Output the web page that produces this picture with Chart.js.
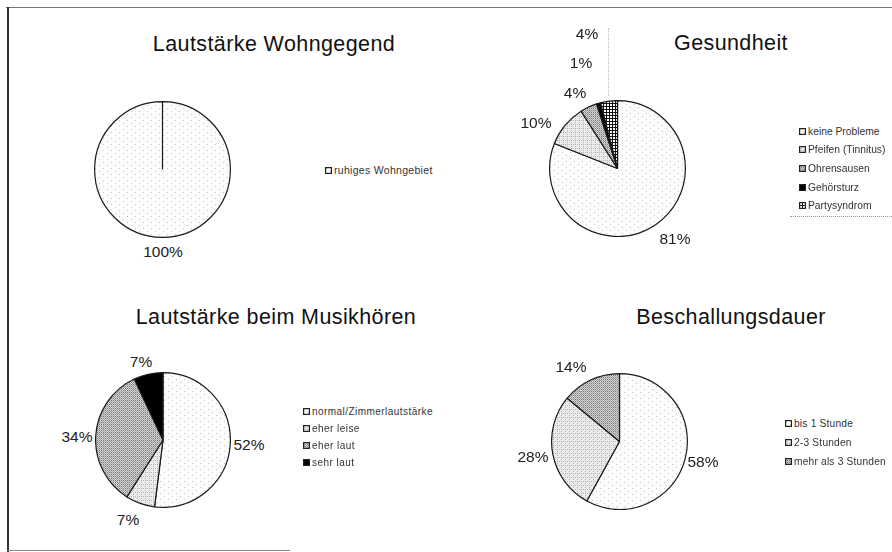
<!DOCTYPE html>
<html>
<head>
<meta charset="utf-8">
<script src="https://cdn.jsdelivr.net/npm/chart.js@4/dist/chart.umd.min.js"></script>
<style>
  html, body { margin: 0; padding: 0; background: #fff; }
  body { width: 892px; height: 552px; position: relative; overflow: hidden; font-family: "Liberation Sans", Arial, sans-serif; }
  .abs { position: absolute; }
  .title { position: absolute; color: #111; font-size: 21.5px; letter-spacing: 0.4px; white-space: nowrap; transform: translate(-50%, -50%); }
  .pct { position: absolute; color: #222; font-size: 15.5px; white-space: nowrap; transform: translate(-50%, -50%); }
  .leg { position: absolute; color: #333; white-space: nowrap; display: flex; align-items: center; }
  .leg canvas { margin-right: 2px; }
</style>
</head>
<body>
<script>
// ---------- data ----------
const titles = ['Lautstärke Wohngegend', 'Gesundheit', 'Lautstärke beim Musikhören', 'Beschallungsdauer'];

const wohnLabels = ['ruhiges Wohngebiet'];
const wohnValues = [100];

const gesundLabels = ['keine Probleme', 'Pfeifen (Tinnitus)', 'Ohrensausen', 'Gehörsturz', 'Partysyndrom'];
const gesundValues = [81, 10, 4, 1, 4];

const musikLabels = ['normal/Zimmerlautstärke', 'eher leise', 'eher laut', 'sehr laut'];
const musikValues = [52, 7, 34, 7];

const dauerLabels = ['bis 1 Stunde', '2-3 Stunden', 'mehr als 3 Stunden'];
const dauerValues = [58, 28, 14];

// ---------- patterns (scanned-print look) ----------
function makePattern(w, h, fn) {
  const c = document.createElement('canvas');
  c.width = w; c.height = h;
  const x = c.getContext('2d');
  fn(x, w, h);
  return x.createPattern(c, 'repeat');
}
const pLight = makePattern(8, 6, (x) => {
  x.fillStyle = '#fcfcfc'; x.fillRect(0, 0, 8, 6);
  x.fillStyle = '#c4c4c4'; x.fillRect(1, 1, 1, 1); x.fillRect(5, 4, 1, 1);
});
const pGrey = makePattern(4, 4, (x) => {
  x.fillStyle = '#ececec'; x.fillRect(0, 0, 4, 4);
  x.fillStyle = '#b0b0b0'; x.fillRect(0, 0, 1, 1); x.fillRect(2, 2, 1, 1); x.fillRect(2, 0, 1, 1);
});
const pMesh = makePattern(2, 2, (x) => {
  x.fillStyle = '#d2d2d2'; x.fillRect(0, 0, 2, 2);
  x.fillStyle = '#777'; x.fillRect(0, 0, 1, 1);
  x.fillStyle = '#aaa'; x.fillRect(1, 1, 1, 1);
});
const pCheck = makePattern(3, 3, (x) => {
  x.fillStyle = '#fff'; x.fillRect(0, 0, 3, 3);
  x.fillStyle = '#111'; x.fillRect(0, 0, 3, 1); x.fillRect(0, 0, 1, 3);
});
const pBlack = '#000';

// ---------- layout ----------
const charts = [
  { title: titles[0], labels: wohnLabels, values: wohnValues, fills: [pLight],
    cx: 162, cy: 169, r: 68, tx: 274, ty: 44,
    pctPos: [[163, 252]],
    leg: { x: 325, y: 170, dy: 18, fs: 10.5, ls: 0.3 } },
  { title: titles[1], labels: gesundLabels, values: gesundValues, fills: [pLight, pGrey, pMesh, pBlack, pCheck],
    cx: 617.5, cy: 168.5, r: 68, tx: 731, ty: 43,
    pctPos: [[675, 239], [536, 123], [575, 93], [581, 63], [587, 34]],
    leg: { x: 799, y: 131, dy: 18.7, fs: 10.3, ls: 0 } },
  { title: titles[2], labels: musikLabels, values: musikValues, fills: [pLight, pGrey, pMesh, pBlack],
    cx: 163, cy: 440, r: 67.5, tx: 276, ty: 317,
    pctPos: [[249, 445], [128, 520], [77, 437], [141, 362]],
    leg: { x: 303, y: 411, dy: 17, fs: 10, ls: 0.45 } },
  { title: titles[3], labels: dauerLabels, values: dauerValues, fills: [pLight, pGrey, pMesh],
    cx: 619, cy: 441.5, r: 68, tx: 731, ty: 317,
    pctPos: [[703, 462], [533, 457], [571, 367]],
    leg: { x: 785, y: 423, dy: 19, fs: 10.2, ls: 0.2 } }
];

function addDiv(cls, text, left, top, extra) {
  const d = document.createElement('div');
  d.className = cls;
  d.textContent = text;
  d.style.left = left + 'px';
  d.style.top = top + 'px';
  if (extra) Object.assign(d.style, extra);
  document.body.appendChild(d);
  return d;
}

// frame lines of the scanned page
addDiv('abs', '', 6, 6.5, { width: '886px', height: '1.5px', background: '#777' });
addDiv('abs', '', 7, 7, { width: '1.5px', height: '545px', background: '#333' });
addDiv('abs', '', 7, 549.5, { width: '283px', height: '1px', background: '#888' });
// leader / legend dotted lines
addDiv('abs', '', 608, 28, { width: '0px', height: '68px', borderLeft: '1px dotted #bbb' });
addDiv('abs', '', 790, 216, { width: '102px', height: '0px', borderTop: '1px dotted #999' });

const BW = 1.2;
charts.forEach((c) => {
  // title
  addDiv('title', c.title, c.tx, c.ty);
  // pie canvas
  const size = Math.round(2 * c.r + BW);
  const cv = document.createElement('canvas');
  cv.width = size; cv.height = size;
  cv.className = 'abs';
  cv.style.left = (c.cx - size / 2) + 'px';
  cv.style.top = (c.cy - size / 2) + 'px';
  cv.style.width = size + 'px'; cv.style.height = size + 'px';
  document.body.appendChild(cv);
  new Chart(cv, {
    type: 'pie',
    data: {
      labels: c.labels,
      datasets: [{
        data: c.values,
        backgroundColor: c.fills,
        borderColor: '#1a1a1a',
        borderWidth: BW,
        borderAlign: 'center'
      }]
    },
    options: {
      responsive: false,
      animation: false,
      events: [],
      layout: { padding: 0 },
      plugins: { legend: { display: false }, tooltip: { enabled: false }, title: { display: false } }
    }
  });
  // percentage labels
  c.values.forEach((v, i) => {
    addDiv('pct', v + '%', c.pctPos[i][0], c.pctPos[i][1]);
  });
  // legend
  c.labels.forEach((lab, i) => {
    const row = document.createElement('div');
    row.className = 'leg';
    row.style.left = c.leg.x + 'px';
    row.style.top = (c.leg.y + i * c.leg.dy - 7) + 'px';
    row.style.height = '14px';
    row.style.fontSize = c.leg.fs + 'px';
    row.style.letterSpacing = c.leg.ls + 'px';
    const sw = document.createElement('canvas');
    sw.width = 7; sw.height = 7;
    const sx = sw.getContext('2d');
    sx.fillStyle = c.fills[i]; sx.fillRect(0, 0, 7, 7);
    sx.strokeStyle = '#222'; sx.lineWidth = 1.2; sx.strokeRect(0.6, 0.6, 5.8, 5.8);
    row.appendChild(sw);
    const t = document.createElement('span');
    t.textContent = lab;
    row.appendChild(t);
    document.body.appendChild(row);
  });
});
</script>
</body>
</html>
